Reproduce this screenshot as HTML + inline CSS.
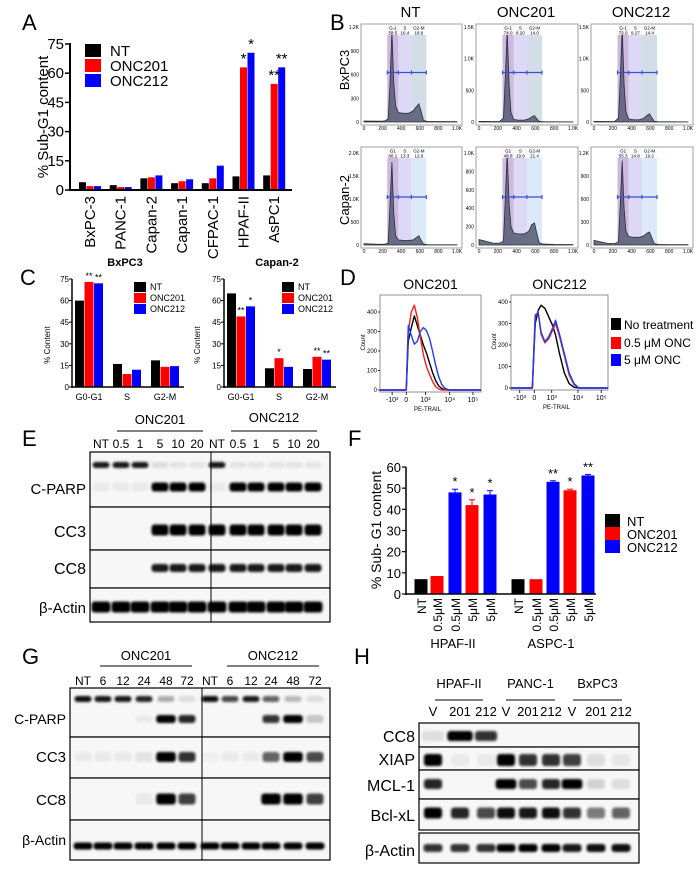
<!DOCTYPE html>
<html><head><meta charset="utf-8"><style>
html,body{margin:0;padding:0;background:#fff;width:700px;height:873px;overflow:hidden}
svg{display:block;font-family:"Liberation Sans",sans-serif}
.n{font-family:"Liberation Sans Narrow","Liberation Sans",sans-serif}
</style></head><body>
<svg id="fig" width="700" height="873" viewBox="0 0 700 873">
<defs><filter id="bl" x="-50%" y="-100%" width="200%" height="300%"><feGaussianBlur stdDeviation="1.4"/></filter></defs>
<g font-size="22">
<text x="22" y="30">A</text>
<text x="330" y="30">B</text>
<text x="20" y="285">C</text>
<text x="340" y="285">D</text>
<text x="22" y="446">E</text>
<text x="348" y="446">F</text>
<text x="22" y="664">G</text>
<text x="354" y="664">H</text>
</g>
</svg>
<script>
// ---------- data ----------
const aCats=["BxPC-3","PANC-1","Capan-2","Capan-1","CFPAC-1","HPAF-II","AsPC1"];
const aNT=[4,2.5,6,3.5,3.5,7,7.5];
const a201=[2,1.5,6.5,4.5,6,63,54.5];
const a212=[2,1.5,7.5,5.5,12.5,70.5,63];
const aStars201=["","","","","","*","**"];
const aStars212=["","","","","","*","**"];
const aTicks=[0,15,30,45,60,75];

const cCats=["G0-G1","S","G2-M"];
const cBxNT=[60,16,18.5],cBx201=[73,9,14],cBx212=[72,12,14.5];
const cCaNT=[65,13,12.5],cCa201=[49,20,21],cCa212=[56,14,19];
const cBxStars201=["**","",""],cBxStars212=["**","",""];
const cCaStars201=["**","*","**"],cCaStars212=["*","","**"];
const cTicks=[0,15,30,45,60,75];

const fCats=["NT","0.5μM","0.5μM","5μM","5μM","NT","0.5μM","0.5μM","5μM","5μM"];
const fVals=[7,8.5,48,42,47,7,7,53,49,56];
const fErr=[0,0,1.5,2.5,1.8,0,0,0.5,0.5,0.5];
const fSeries=[0,1,2,1,2,0,1,2,1,2];
const fStars=["","","*","*","*","","","**","*","**"];
const fTicks=[0,10,20,30,40,50,60];

const dU=[26,28,31,34,37,40,43,46,49,52,55,58,61,64,67,70];
const d201NT=[0,250,320,380,330,280,230,190,140,90,50,22,8,2,0,0];
const d201Lo=[0,300,400,435,370,270,180,120,80,45,18,5,0,0,0,0];
const d201Hi=[0,330,280,235,250,300,320,305,265,200,130,70,30,10,3,0];
const dU2=[22,25,28,31,35,39,43,46,50,55,60,65,70];
const d212NT=[0,300,360,385,370,330,290,245,160,70,20,3,0];
const d212Lo=[0,330,355,250,210,230,270,300,240,150,60,15,0];
const d212Hi=[0,340,350,260,215,240,280,315,250,160,70,20,0];
const dTickLabels=["-10³","0","10³","10⁴","10⁵"];
const dTickU1=[12,26,45,69,92], dTickU2=[9,24,42,69,93];

const bX=[0,150,220,260,280,300,320,340,370,420,480,530,560,590,610,640,680,800,1000];
const bHist=[
 [12,10,12,40,500,1150,500,200,120,110,110,140,190,230,150,20,8,6,5],
 [10,8,10,60,700,1450,600,150,40,30,30,50,80,100,60,10,5,3,2],
 [10,8,10,60,700,1500,600,160,50,35,35,60,100,130,80,12,5,3,2],
 [30,15,15,40,900,1800,700,200,110,100,100,110,160,200,120,20,8,5,4],
 [60,20,20,40,500,1000,450,200,130,120,120,150,220,240,150,25,10,6,4],
 [60,20,20,40,550,1100,480,180,110,100,100,120,150,170,110,20,8,5,4]];
const bMax=[1200,1500,1500,2000,1000,1200];
const bTickV=[[0,300,600,900,1200],[0,500,1000,1500],[0,500,1000,1500],[0,500,1000,1500,2000],[0,200,400,600,800,1000],[0,300,600,900,1200]];
const bG1=["58.5","74.0","72.0","66.1","48.8","55.3"],bS=["16.4","8.20","9.27","13.3","19.9","14.8"],bG2=["18.9","14.0","14.4","12.9","21.4","19.2"];

const eLanes=["NT","0.5","1","5","10","20","NT","0.5","1","5","10","20"];
const eParpUp=[.9,.9,.9,.1,.08,.08,.9,.08,.08,.08,.08,.08];
const eParpLo=[.05,.05,.05,1,1,1,.05,1,1,1,1,1];
const eCC3=[0,0,0,1,1,1,1,1,1,1,1,1];
const eCC8=[0,0,0,.9,.9,.9,.9,.9,.9,.9,.9,.9];
const eAct=[1,1,1,1,1,1,1,1,1,1,1,1];
const gLanes=["NT","6","12","24","48","72","NT","6","12","24","48","72"];
const gParpUp=[.95,.9,.9,.85,.3,.1,.95,.7,.9,.6,.25,.1];
const gParpLo=[0,0,0,.05,1,.85,0,0,0,.8,1,.2];
const gCC3=[.05,.05,.05,.08,1,.8,.03,.05,.05,.6,1,.7];
const gCC8=[0,0,0,.05,1,.75,0,0,0,1,1,.75];
const gAct=[1,1,1,1,1,1,1,1,1,1,1,1];
const hLanes=["V","201","212","V","201","212","V","201","212"];
const hCC8=[.1,1,.8,0,0,0,0,0,0];
const hXIAP=[1,.05,.05,1,.8,.8,.75,.1,.07];
const hMCL=[.85,0,0,1,.7,.85,1,.15,.1];
const hBcl=[1,.85,.7,.95,.9,.95,.8,.5,.6];
const hAct=[.8,.8,.8,1,1,1,.9,.95,.95];

// ---------- helpers ----------
const svg=document.getElementById('fig');
const NS="http://www.w3.org/2000/svg";
function mk(tag,attrs,name,inter,parent){
 const el=document.createElementNS(NS,tag);
 for(const k in attrs) el.setAttribute(k,attrs[k]);
 
 
 (parent||svg).appendChild(el);return el;}
function txt(x,y,s,size,name,opt){opt=opt||{};
 const t=mk('text',Object.assign({x:x,y:y,'font-size':size,'text-anchor':opt.a||'start'},opt.attr||{}),name,'false');
 t.textContent=s;return t;}
function line(x1,y1,x2,y2,w,name,col){return mk('line',{x1,y1,x2,y2,stroke:col||'#000','stroke-width':w},name,'false');}
const COL=['#000','#ff0000','#0000ff'];

// ---------- Panel A ----------
(function(){
 const yA=v=>190-v*146/75, x0=70, x1=292;
 aTicks.forEach(t=>{line(x0-5,yA(t),x0,yA(t),1.5,'a-y-tick');txt(x0-6,yA(t)+5,String(t),15,'a-y-tick-label',{a:'end'});});
 const series=[aNT,a201,a212];
 aCats.forEach((c,i)=>{const cx=90+i*30.7;
  series.forEach((s,k)=>{const x=cx-11+k*7.5;
   mk('rect',{x:x,y:yA(s[i]),width:7,height:190-yA(s[i]),fill:COL[k]},'a-bar-'+['nt','onc201','onc212'][k],'false');});
  const st=[aStars201[i],aStars212[i]];
  st.forEach((s,k)=>{if(s){txt(cx-11+(k+1)*7.5+3.5,yA(series[k+1][i])-4,s,15,'a-significance',{a:'middle'});}});
  txt(cx+5,196,c,15,'a-x-label',{a:'end',attr:{transform:`rotate(-90 ${cx+5} 196)`}});
 });
 line(x0,yA(75)-1,x0,191,2,'a-y-axis');line(x0-1,190,x1,190,2,'a-x-axis');
 txt(48,117,'% Sub-G1 content',15,'a-y-axis-title',{a:'middle',attr:{transform:'rotate(-90 48 117)'}});
 ['NT','ONC201','ONC212'].forEach((n,k)=>{mk('rect',{x:85,y:44+k*15,width:16,height:13,fill:COL[k]},'a-legend-swatch','false');
  txt(110,56+k*15,n,15,'a-legend-entry');});
})();

// ---------- Panel B ----------
(function(){
 const cols=[[364,457],[479,573],[594,688]], rows=[[27,122,24],[153,245,147]];
 ['NT','ONC201','ONC212'].forEach((t,j)=>txt((cols[j][0]+cols[j][1])/2,17,t,15,'b-column-title',{a:'middle'}));
 txt(349,70,'BxPC3',13,'b-row-label',{a:'middle',attr:{transform:'rotate(-90 349 70)'}});
 txt(349,200,'Capan-2',13,'b-row-label',{a:'middle',attr:{transform:'rotate(-90 349 200)'}});
 for(let p=0;p<6;p++){const r=rows[Math.floor(p/3)],c=cols[p%3];
  const X=v=>c[0]+v/1000*(c[1]-c[0]), Y=v=>r[1]-v/bMax[p]*(r[1]-r[0]);
  mk('rect',{x:c[0]-3,y:r[2],width:c[1]-c[0]+8,height:r[1]-r[2]+3,fill:'#fff',stroke:'#888','stroke-width':0.8},'b-plot-frame','false');
  mk('rect',{x:X(250),y:r[2]+1,width:X(370)-X(250),height:r[1]-r[2]-1,fill:'#cdb8e0'},'b-gate-g1','false');
  mk('rect',{x:X(370),y:r[2]+1,width:X(510)-X(370),height:r[1]-r[2]-1,fill:'#dcd8f6'},'b-gate-s','false');
  mk('rect',{x:X(510),y:r[2]+1,width:X(670)-X(510),height:r[1]-r[2]-1,fill:p<3?'#d2dde8':'#dbe9f8'},'b-gate-g2m','false');
  let d='M'+X(bX[0])+','+Y(0);bX.forEach((v,i)=>d+=' L'+X(v)+','+Y(bHist[p][i]));d+=' L'+X(1000)+','+Y(0)+'Z';
  mk('path',{d:d,fill:'#5c6278','fill-opacity':0.9,stroke:'#2a2e3c','stroke-width':0.8},'b-histogram','false');
  const my=(r[0]+r[1])/2-2;
  line(X(250),my,X(670),my,1.2,'b-gate-bar','#3a4fd0');
  [250,370,510,670].forEach(v=>line(X(v),my-2,X(v),my+2,1.2,'b-gate-tick','#3a4fd0'));
  mk('rect',{x:X(250),y:r[2]+1,width:X(670)-X(250),height:10,fill:'#fff','fill-opacity':0.85},'b-gate-header','false');
  [[310,bG1[p],p<3?'G-1':'G1'],[440,bS[p],'S'],[590,bG2[p],'G2-M']].forEach(g=>{
   txt(X(g[0]),r[2]+5.5,g[2],4.5,'b-gate-name',{a:'middle'});txt(X(g[0]),r[2]+10.5,g[1],4.5,'b-gate-value',{a:'middle'});});
  bTickV[p].forEach(v=>{
   txt(c[0]-5,Y(v)+2,v>=1000?(v%1000==0?(v/1000).toFixed(1)+'K':(v/1000)+'K'):String(v),5,'b-y-tick-label',{a:'end'});});
  [0,200,400,600,800,1000].forEach(v=>txt(X(v),r[1]+8,v==1000?'1.0K':String(v),5,'b-x-tick-label',{a:'middle'}));
 }
})();

// ---------- Panel C ----------
(function(){
 const yC=v=>387-v*1.44;
 function chart(x0,title,nt,s1,s2,st1,st2,lx,ty){
  txt(x0+53,266,title,11,'c-chart-title',{a:'middle',attr:{'font-weight':'bold'}});
  cTicks.forEach(t=>{line(x0-3,yC(t),x0,yC(t),1,'c-y-tick');txt(x0-3,yC(t)+3,String(t),8,'c-y-tick-label',{a:'end'});});
  const ser=[nt,s1,s2];
  cCats.forEach((c,i)=>{const cx=x0+17+i*38;
   ser.forEach((s,k)=>mk('rect',{x:cx-14+k*9.5,y:yC(s[i]),width:9,height:387-yC(s[i]),fill:COL[k]},'c-bar','false'));
   [st1[i],st2[i]].forEach((s,k)=>{if(s)txt(cx-14+(k+1)*9.5+4.5,yC(ser[k+1][i])-3,s,9,'c-significance',{a:'middle'});});
   txt(cx,400,c,9,'c-x-label',{a:'middle'});
  });
  line(x0,yC(75),x0,388,1.5,'c-y-axis');line(x0,387,x0+112,387,1.5,'c-x-axis');
  txt(ty,345,'% Content',8,'c-y-axis-title',{a:'middle',attr:{transform:`rotate(-90 ${ty} 345)`}});
  ['NT','ONC201','ONC212'].forEach((n,k)=>{mk('rect',{x:lx,y:282+k*11,width:12,height:10,fill:COL[k]},'c-legend-swatch','false');
   txt(lx+16,290+k*11,n,9,'c-legend-entry');});
 }
 chart(72,'BxPC3',cBxNT,cBx201,cBx212,cBxStars201,cBxStars212,134,50);
 chart(224,'Capan-2',cCaNT,cCa201,cCa212,cCaStars201,cCaStars212,282,200);
})();

// ---------- Panel D ----------
(function(){
 function plot(bx0,bx1,y0,y400,title,u,series,ticks){
  const X=v=>bx0+v/100*(bx1-bx0), Y=v=>y0-v/400*(y0-y400);
  txt((bx0+bx1)/2,289,title,14,'d-plot-title',{a:'middle'});
  mk('rect',{x:bx0,y:295,width:bx1-bx0,height:y0+2-295,fill:'none',stroke:'#777','stroke-width':0.8},'d-plot-frame','false');
  [0,100,200,300,400].forEach(v=>{txt(bx0-3,Y(v)+2,String(v),6,'d-y-tick-label',{a:'end'});line(bx0-2,Y(v),bx0,Y(v),0.8,'d-y-tick');});
  txt(bx0-15,(y0+295)/2,'Count',6,'d-y-axis-title',{a:'middle',attr:{transform:`rotate(-90 ${bx0-15} ${(y0+295)/2})`}});
  ticks.forEach((t,i)=>{line(X(t),y0+2,X(t),y0+5,0.8,'d-x-tick');txt(X(t),y0+12,dTickLabels[i],7,'d-x-tick-label',{a:'middle'});});
  txt((bx0+bx1)/2-3,y0+21,'PE-TRAIL',6,'d-x-axis-title',{a:'middle'});
  const cols=['#000','#ff1a1a','#1a3cff'];
  series.forEach((s,k)=>{let d='M'+X(0)+','+Y(0)+' L'+X(u[0])+','+Y(0);u.forEach((v,i)=>d+=' L'+X(v)+','+Y(s[i]));d+=' L'+X(100)+','+Y(0);
   mk('path',{d:d,fill:'none',stroke:cols[k],'stroke-width':1.4,'stroke-linejoin':'round'},'d-histogram-line','false');});
 }
 plot(380,481,390,312,'ONC201',dU,[d201NT,d201Lo,d201Hi],dTickU1);
 plot(511,608,388,302,'ONC212',dU2,[d212NT,d212Lo,d212Hi],dTickU2);
 ['No treatment','0.5 μM ONC','5 μM ONC'].forEach((n,k)=>{mk('rect',{x:611,y:[318,337,354][k],width:10,height:12,fill:COL[k]},'d-legend-swatch','false');
  txt(624,[329,347,364][k],n,12,'d-legend-entry');});
})();

// ---------- Panel F ----------
(function(){
 const yF=v=>594-v*127/60, xs=[421,437,455,472,490,518,536,553,570,588];
 fTicks.forEach(t=>{line(402,yF(t),406,yF(t),1.2,'f-y-tick');txt(401,yF(t)+5,String(t),13,'f-y-tick-label',{a:'end'});});
 fVals.forEach((v,i)=>{mk('rect',{x:xs[i]-6.5,y:yF(v),width:13,height:594-yF(v),fill:COL[fSeries[i]]},'f-bar','false');
  if(fErr[i]){line(xs[i],yF(v+fErr[i]),xs[i],yF(v),1,'f-error-bar',COL[fSeries[i]]);line(xs[i]-3,yF(v+fErr[i]),xs[i]+3,yF(v+fErr[i]),1,'f-error-cap',COL[fSeries[i]]);}
  if(fStars[i])txt(xs[i],yF(v+fErr[i])-3,fStars[i],13,'f-significance',{a:'middle'});
  txt(xs[i]+5,598,fCats[i],12,'f-x-label',{a:'end',attr:{transform:`rotate(-90 ${xs[i]+5} 598)`}});});
 line(406,yF(60),406,595,1.5,'f-y-axis');line(406,594,596,594,1.5,'f-x-axis');
 txt(381,530,'% Sub- G1 content',14,'f-y-axis-title',{a:'middle',attr:{transform:'rotate(-90 381 530)'}});
 txt(453,648,'HPAF-II',13,'f-group-label',{a:'middle'});
 txt(551,648,'ASPC-1',13,'f-group-label',{a:'middle'});
 ['NT','ONC201','ONC212'].forEach((n,k)=>{mk('rect',{x:605,y:514+k*13,width:15,height:13,fill:COL[k]},'f-legend-swatch','false');
  txt(627,526+k*13,n,13,'f-legend-entry');});
})();

// ---------- Blots ----------
function blot(cfg){
 const g=mk('g',{},cfg.name,'false');
 cfg.rows.forEach(r=>{
  mk('rect',{x:cfg.x0,y:r.y0,width:cfg.x1-cfg.x0,height:r.y1-r.y0,fill:'#f7f7f7',stroke:'#000','stroke-width':1.2},cfg.name+'-row','false',g);
  txt(cfg.x0-4,r.ly,r.label,r.fs||15,cfg.name+'-row-label',{a:'end'});
  r.bands.forEach(b=>b.vals.forEach((v,i)=>{if(v<=0)return;const bw=(b.w||17)*(v>0.95&&b.big?1.15:1);
   mk('rect',{x:cfg.lanes[i]-bw/2,y:b.y-b.h/2,width:bw,height:b.h,rx:3,fill:'#000','fill-opacity':Math.min(1,v),filter:'url(#bl)'},cfg.name+'-band','false',g);}));
 });
 if(cfg.div)line(cfg.div,cfg.rows[0].y0,cfg.div,cfg.rows[cfg.rows.length-1].y1,1,cfg.name+'-divider');
 cfg.lanes.forEach((x,i)=>txt(x,cfg.laneY,cfg.laneLabels[i],cfg.lfs||12,cfg.name+'-lane-label',{a:'middle'}));
 cfg.groups.forEach(gr=>{txt((gr[0]+gr[1])/2,gr[3],gr[2],13,cfg.name+'-group-label',{a:'middle'});line(gr[0],gr[4],gr[1],gr[4],1,cfg.name+'-group-line');});
}
blot({name:'e-blot',x0:90,x1:330,div:211,laneY:448,laneLabels:eLanes,
 lanes:[101,121,140,160,178,197,217,238,256,276,294,313],
 groups:[[117,203,'ONC201',424,431],[231,317,'ONC212',422,431]],
 rows:[{y0:452,y1:507,label:'C-PARP',ly:494,fs:15,bands:[{y:465,h:6,vals:eParpUp},{y:487,h:9,vals:eParpLo}]},
  {y0:507,y1:550,label:'CC3',ly:537,fs:16,bands:[{y:530,h:11,vals:eCC3}]},
  {y0:550,y1:588,label:'CC8',ly:574,fs:16,bands:[{y:568,h:8,vals:eCC8}]},
  {y0:588,y1:622,label:'β-Actin',ly:613,fs:15,bands:[{y:607,h:11,vals:eAct,w:19}]}]});
blot({name:'g-blot',x0:70,x1:330,div:202,laneY:685,laneLabels:gLanes,
 lanes:[83,103,123,144,166,187,210,230,251,271,293,315],
 groups:[[100,192,'ONC201',660,666],[227,319,'ONC212',660,666]],
 rows:[{y0:688,y1:737,label:'C-PARP',ly:724,fs:14,bands:[{y:699,h:6,vals:gParpUp},{y:719,h:8,vals:gParpLo,big:true}]},
  {y0:737,y1:778,label:'CC3',ly:762,fs:15,bands:[{y:757,h:10,vals:gCC3,big:true}]},
  {y0:778,y1:820,label:'CC8',ly:805,fs:15,bands:[{y:799,h:11,vals:gCC8,big:true}]},
  {y0:820,y1:860,label:'β-Actin',ly:845,fs:14,bands:[{y:846,h:7,vals:gAct,w:19}]}]});
blot({name:'h-blot',x0:419,x1:639,laneY:716,laneLabels:hLanes,lfs:13,
 lanes:[433,460,486,506,528,551,572,596,621],
 groups:[[435,483,'HPAF-II',688,700],[506,555,'PANC-1',688,700],[573,622,'BxPC3',688,700]],
 rows:[{y0:723,y1:747,label:'CC8',ly:742,fs:16,bands:[{y:736,h:10,vals:hCC8,w:22,big:true}]},
  {y0:747,y1:770,label:'XIAP',ly:765,fs:16,bands:[{y:760,h:12,vals:hXIAP,w:18}]},
  {y0:770,y1:799,label:'MCL-1',ly:791,fs:16,bands:[{y:784,h:10,vals:hMCL,w:18,big:true}]},
  {y0:799,y1:830,label:'Bcl-xL',ly:821,fs:16,bands:[{y:813,h:11,vals:hBcl,w:18}]},
  {y0:833,y1:863,label:'β-Actin',ly:856,fs:16,bands:[{y:848,h:8,vals:hAct,w:19}]}]});
</script>
</body></html>
